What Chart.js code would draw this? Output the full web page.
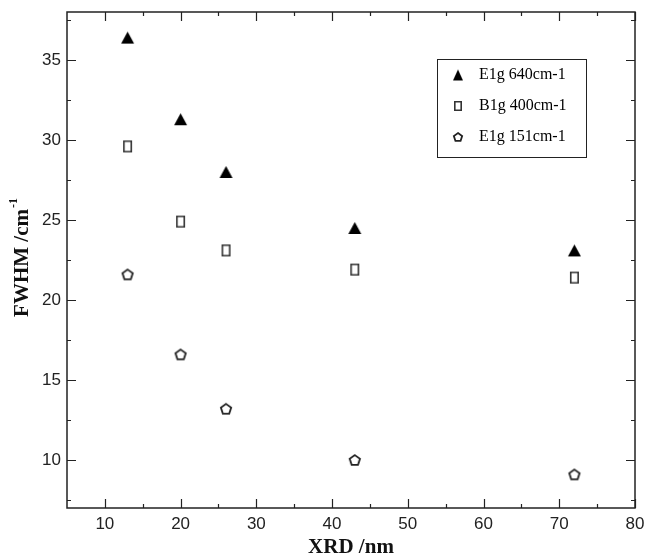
<!DOCTYPE html>
<html>
<head>
  <title>FWHM vs XRD size</title>
  <style>
    body { margin: 0; background: #fff; }
    canvas { display: block; }
  </style>
  <script src="https://cdn.jsdelivr.net/npm/chart.js"></script>
</head>
<body>
  <canvas id="fwhmChart" width="647" height="560"></canvas>
  <script>
    // Crystallite size from XRD (nm)
    const xrdSize = [13, 20, 26, 43, 72];
    // FWHM of each Raman band (cm-1)
    const e1g640 = [36.4, 31.3, 28.0, 24.5, 23.1];
    const b1g400 = [29.6, 24.9, 23.1, 21.9, 21.4];
    const e1g151 = [21.6, 16.6, 13.2, 10.0, 9.1];
    const seriesNames = ['E1g 640cm-1', 'B1g 400cm-1', 'E1g 151cm-1'];

    const xTicks = [10, 20, 30, 40, 50, 60, 70, 80];
    const xMinor = [15, 25, 35, 45, 55, 65, 75];
    const yTicks = [10, 15, 20, 25, 30, 35];
    const yMinor = [7.5, 12.5, 17.5, 22.5, 27.5, 32.5, 37.5];

    // Helper to make marker images (Chart.js has no pentagon)
    function makeMarker(kind, w, h) {
      const c = document.createElement('canvas');
      c.width = w + 4;
      c.height = h + 4;
      const g = c.getContext('2d');
      const cx = c.width / 2, cy = c.height / 2;
      g.beginPath();
      if (kind === 'triangle') {
        g.moveTo(cx, cy - h / 2);
        g.lineTo(cx + w / 2, cy + h / 2);
        g.lineTo(cx - w / 2, cy + h / 2);
        g.closePath();
        g.fillStyle = '#000';
        g.fill();
      } else if (kind === 'square') {
        g.rect(cx - w / 2 + 0.8, cy - h / 2 + 0.8, w - 1.6, h - 1.6);
        g.strokeStyle = '#333';
        g.lineWidth = 1.6;
        g.stroke();
      } else {
        const r = w / 2 / Math.sin(72 * Math.PI / 180) - 0.9;
        const oy = cy + (r - r * Math.cos(36 * Math.PI / 180)) / 2;
        for (let i = 0; i < 5; i++) {
          const a = (-90 + i * 72) * Math.PI / 180;
          const px = cx + r * Math.cos(a), py = oy + r * Math.sin(a);
          if (i === 0) g.moveTo(px, py); else g.lineTo(px, py);
        }
        g.closePath();
        g.strokeStyle = '#222';
        g.lineWidth = 1.8;
        g.stroke();
      }
      return c;
    }

    const markers = [makeMarker('triangle', 13, 12), makeMarker('square', 9, 12), makeMarker('pentagon', 12, 12)];
    const legendMarkers = [makeMarker('triangle', 10, 11), makeMarker('square', 8, 10), makeMarker('pentagon', 10, 10)];

    function toPoints(ys) {
      return xrdSize.map((x, i) => ({ x: x, y: ys[i] }));
    }

    // Frame, inward ticks and axis titles
    const framePlugin = {
      id: 'frame',
      beforeDatasetsDraw(chart) {
        const { ctx, chartArea: a, scales: { x, y } } = chart;
        ctx.save();
        ctx.strokeStyle = '#222';
        ctx.lineWidth = 1.2;
        ctx.beginPath();
        const tickX = (vals, len) => vals.forEach(v => {
          const px = Math.round(x.getPixelForValue(v)) + 0.5;
          ctx.moveTo(px, a.bottom); ctx.lineTo(px, a.bottom - len);
          ctx.moveTo(px, a.top); ctx.lineTo(px, a.top + len);
        });
        const tickY = (vals, len) => vals.forEach(v => {
          const py = Math.round(y.getPixelForValue(v)) + 0.5;
          ctx.moveTo(a.left, py); ctx.lineTo(a.left + len, py);
          ctx.moveTo(a.right, py); ctx.lineTo(a.right - len, py);
        });
        tickX(xTicks, 9); tickX(xMinor, 4);
        tickY(yTicks, 9); tickY(yMinor, 4);
        ctx.stroke();
        ctx.lineWidth = 1.5;
        ctx.strokeRect(a.left, a.top, a.right - a.left, a.bottom - a.top);

        // x title
        ctx.fillStyle = '#111';
        ctx.font = 'bold 21px "Liberation Serif", serif';
        ctx.textAlign = 'center';
        ctx.textBaseline = 'middle';
        ctx.fillText('XRD /nm', (a.left + a.right) / 2, 548);

        // y title with superscript
        ctx.translate(21, (a.top + a.bottom) / 2 - 2);
        ctx.rotate(-Math.PI / 2);
        const main = 'FWHM /cm', sup = '-1';
        ctx.font = 'bold 21px "Liberation Serif", serif';
        const wMain = ctx.measureText(main).width;
        ctx.font = 'bold 12px "Liberation Serif", serif';
        const wSup = ctx.measureText(sup).width;
        const start = -(wMain + wSup) / 2;
        ctx.textAlign = 'left';
        ctx.textBaseline = 'alphabetic';
        ctx.font = 'bold 21px "Liberation Serif", serif';
        ctx.fillText(main, start, 7);
        ctx.font = 'bold 12px "Liberation Serif", serif';
        ctx.fillText(sup, start + wMain + 1, -4);
        ctx.restore();
      },
      afterDraw(chart) {
        // legend box
        const ctx = chart.ctx;
        ctx.save();
        ctx.strokeStyle = '#222';
        ctx.lineWidth = 1;
        ctx.strokeRect(437.5, 59.5, 149, 98);
        ctx.font = '16px "Liberation Serif", serif';
        ctx.fillStyle = '#000';
        ctx.textAlign = 'left';
        ctx.textBaseline = 'middle';
        const rows = [75, 106, 137];
        seriesNames.forEach((name, i) => {
          const m = legendMarkers[i];
          ctx.drawImage(m, 458 - m.width / 2, rows[i] - m.height / 2);
          ctx.fillText(name, 479, rows[i]);
        });
        ctx.restore();
      }
    };

    new Chart(document.getElementById('fwhmChart'), {
      type: 'scatter',
      data: {
        datasets: [
          { label: seriesNames[0], data: toPoints(e1g640), pointStyle: markers[0] },
          { label: seriesNames[1], data: toPoints(b1g400), pointStyle: markers[1] },
          { label: seriesNames[2], data: toPoints(e1g151), pointStyle: markers[2] }
        ]
      },
      options: {
        responsive: false,
        animation: false,
        layout: { padding: { top: 12, right: 12, left: 0, bottom: 0 } },
        plugins: { legend: { display: false }, tooltip: { enabled: false } },
        scales: {
          x: {
            type: 'linear',
            min: 5,
            max: 80,
            grid: { display: false, drawTicks: false },
            border: { display: false },
            afterBuildTicks: s => { s.ticks = xTicks.map(v => ({ value: v })); },
            afterFit: s => { s.height = 52; s.paddingLeft = 0; s.paddingRight = 0; },
            ticks: { color: '#222', padding: 6, maxRotation: 0, font: { family: '"Liberation Sans", Arial, sans-serif', size: 17 } }
          },
          y: {
            min: 7,
            max: 38,
            grid: { display: false, drawTicks: false },
            border: { display: false },
            afterBuildTicks: s => { s.ticks = yTicks.map(v => ({ value: v })); },
            afterFit: s => { s.width = 67; s.paddingTop = 0; s.paddingBottom = 0; },
            ticks: { color: '#222', padding: 6, font: { family: '"Liberation Sans", Arial, sans-serif', size: 17 } }
          }
        }
      },
      plugins: [framePlugin]
    });
  </script>
</body>
</html>
